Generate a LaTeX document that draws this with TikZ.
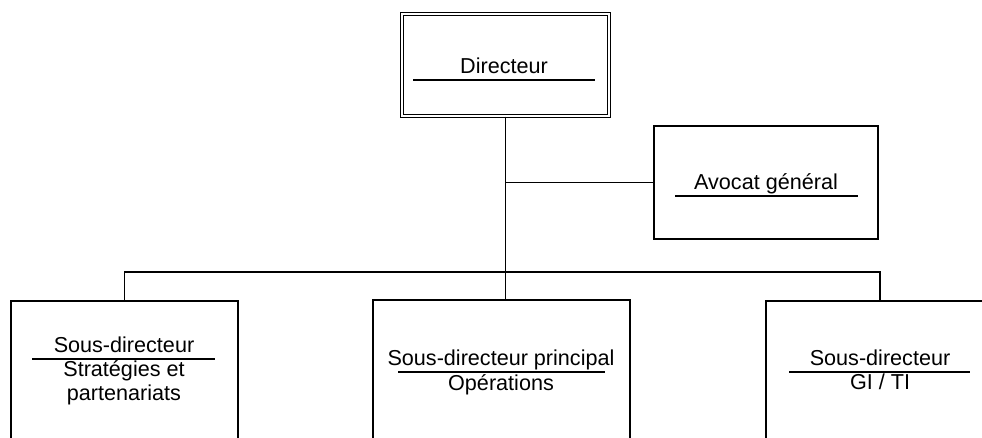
\documentclass[tikz,border=0pt]{standalone}
\usepackage{fontspec}
\setmainfont{Liberation Sans}
\usepackage{tikz}
\usetikzlibrary{fit}

\begin{document}
\begin{tikzpicture}[x=0.75pt,y=-0.75pt,line width=1.2pt,
  box/.style={draw,rectangle,inner sep=0pt},
  headbox/.style={draw,rectangle,inner sep=0pt,double,double distance=1.6pt,line width=0.8pt},
  txt/.style={anchor=base,inner sep=0pt,font=\fontsize{16.2pt}{18pt}\selectfont}]

  \useasboundingbox (0,0) rectangle (982,438);
  \clip (0,0) rectangle (982,438);

  \node[headbox,fit={(402,14) (609,116)}] (dir) {};
  \node[box,fit={(654,126) (878,239)}] (avo) {};
  \node[box,fit={(11,301) (238,470)}] (sd1) {};
  \node[box,fit={(373,300) (630,470)}] (sdp) {};
  \node[box,fit={(766,301) (994,470)}] (sd2) {};
  \coordinate (bus) at (dir.south |- 0,272);

  \draw (dir.south) -- (bus);
  \draw (dir.south |- avo.west) -- (avo.west);
  \draw (sd1.north) |- (bus) -| (sd2.north);
  \draw (bus) -- (bus |- sdp.north);

  \node[txt] (tdir) at (504,74) {Directeur};
  \draw (413,80) -- (595,80);

  \node[txt] (tavo) at (766,190) {Avocat g\'en\'eral};
  \draw (675,196) -- (858,196);

  \node[txt] (tsd1) at (124,353) {Sous-directeur};
  \draw (32,359) -- (215,359);
  \node[txt] (tsd1a) at (124,377) {Strat\'egies et};
  \node[txt] (tsd1b) at (124,400) {partenariats};

  \node[txt] (tsdp) at (501,365) {Sous-directeur principal};
  \draw (398,372) -- (605,372);
  \node[txt] (tsdpa) at (501,390) {Op\'erations};

  \node[txt] (tsd2) at (880,365) {Sous-directeur};
  \draw (789,372) -- (970,372);
  \node[txt] (tsd2a) at (880,389) {GI / TI};
\end{tikzpicture}
\end{document}
